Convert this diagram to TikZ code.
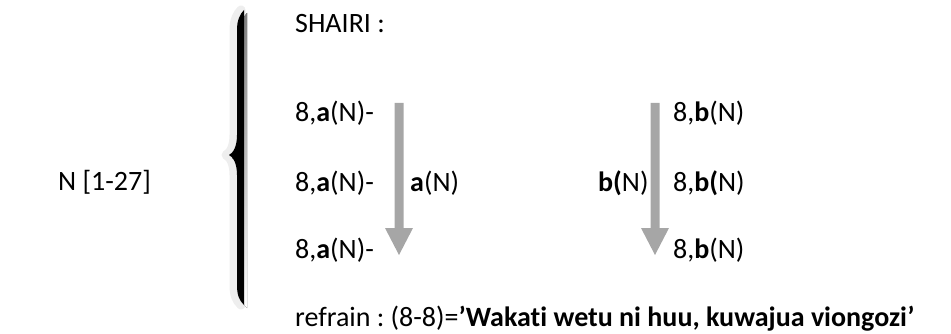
\documentclass[tikz,border=0pt]{standalone}
\usepackage{fontspec}
\setmainfont{Carlito}[Ligatures=NoCommon]
\frenchspacing
\definecolor{arrowgray}{RGB}{166,166,166}
\definecolor{glow}{RGB}{238,238,238}
\definecolor{shade}{RGB}{170,170,170}
\begin{document}
\begin{tikzpicture}[x=1pt,y=-1pt,
  txt/.style={anchor=base west, inner sep=0pt, font=\fontsize{28}{34}\selectfont},
  blockarrow/.style={fill=arrowgray, draw=none},
  bracepath/.style={insert path={(244,10) -- (244,305)
     .. controls (239,300) and (237,295) .. (237,285) -- (237,175)
     .. controls (237,163) and (233,157) .. (229,155)
     .. controls (233,153) and (237,147) .. (237,135) -- (237,30)
     .. controls (237,20) and (240,14) .. (244,10) -- cycle}}]
\useasboundingbox (0,0) rectangle (951,334);
% brace
\draw[shift={(-3,0)}, glow, fill=glow, line width=9pt, line join=round, bracepath];
\fill[shift={(3,3)}, shade, bracepath];
\fill[black, bracepath];
% texts
\node[txt] (n) at (58,190) {N [1-27]};
\node[txt] (sh) at (295,33) {SHAIRI :};
\node[txt] (a1) at (295,122) {8,\textbf{a}(N)-};
\node[txt] (a2) at (295,192) {8,\textbf{a}(N)-};
\node[txt] (a3) at (295,258) {8,\textbf{a}(N)-};
\node[txt] (al) at (410,192) {\textbf{a}(N)};
\node[txt] (bl) at (598,192) {\textbf{b(}N)};
\node[txt] (b1) at (673,122) {8,\textbf{b}(N)};
\node[txt] (b2) at (673,192) {8,\textbf{b(}N)};
\node[txt] (b3) at (673,258) {8,\textbf{b}(N)};
\node[txt] (rf) at (295,326) {refrain : (8-8)=\textbf{’Wakati wetu ni huu, kuwajua viongozi’}};
% block arrows
\fill[blockarrow] (394.5,103) -- (403.5,103) -- (403.5,228) -- (413,228) -- (399,255) -- (385,228) -- (394.5,228) -- cycle;
\fill[blockarrow] (650.5,103) -- (659.5,103) -- (659.5,228) -- (669,228) -- (655,255) -- (641,228) -- (650.5,228) -- cycle;
\end{tikzpicture}
\end{document}
